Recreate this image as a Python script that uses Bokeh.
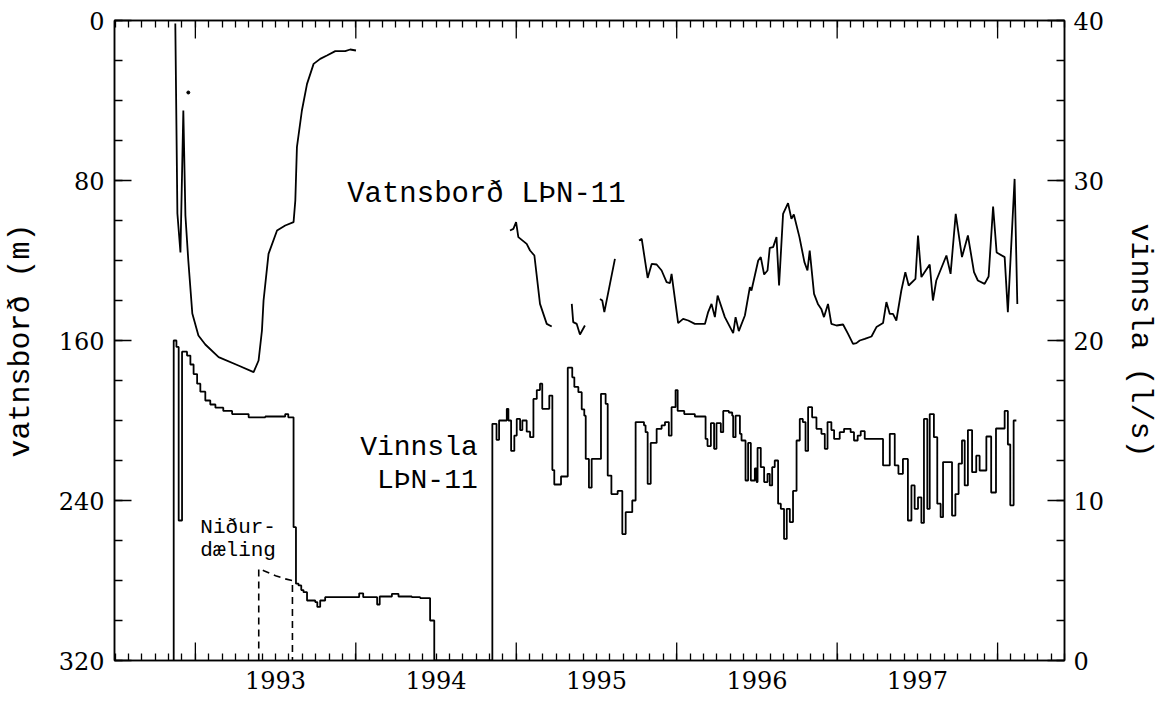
import numpy as np
from bokeh.plotting import figure
from bokeh.models import Range1d, LinearAxis, FixedTicker
from bokeh.core.properties import value
from bokeh.embed import file_html
from bokeh.resources import INLINE

# ---------------- data ----------------
years = [1993, 1994, 1995, 1996, 1997]
year_labels = ["1993", "1994", "1995", "1996", "1997"]
year_bounds = [1993, 1994, 1995, 1996, 1997, 1998]

# water level (m below surface), segments separated by NaN
lvl_t = [1992.875, 1992.888, 1992.907, 1992.925, 1992.938, 1992.956, 1992.981, 1993.019,
         1993.062, 1993.145, 1993.268, 1993.363, 1993.394, 1993.415, 1993.425, 1993.456,
         1993.509, 1993.560, 1993.612, 1993.623, 1993.633, 1993.664, 1993.696, 1993.737,
         1993.778, 1993.820, 1993.872, 1993.934, 1993.965, 1994.001,
         np.nan,
         1994.961, 1994.982, 1994.999, 1995.013, 1995.065, 1995.086, 1995.113, 1995.148,
         1995.190, 1995.221,
         np.nan,
         1995.346, 1995.355, 1995.377, 1995.397, 1995.428,
         np.nan,
         1995.522, 1995.536, 1995.549, 1995.584, 1995.615,
         np.nan,
         1995.765, 1995.782, 1995.819, 1995.844, 1995.875, 1995.906, 1995.937, 1995.958,
         1995.968, 1996.009, 1996.040, 1996.072, 1996.113, 1996.176, 1996.196, 1996.217,
         1996.238, 1996.255, 1996.300, 1996.352, 1996.367, 1996.387, 1996.425, 1996.456,
         1996.466, 1996.508, 1996.524, 1996.545, 1996.566, 1996.580, 1996.601, 1996.622,
         1996.638, 1996.663, 1996.694, 1996.715, 1996.730, 1996.765, 1996.796, 1996.815,
         1996.829, 1996.856, 1996.880, 1996.901, 1996.918, 1996.943, 1996.964, 1996.996,
         1997.037, 1997.068, 1997.099, 1997.120, 1997.141, 1997.172, 1997.214, 1997.245,
         1997.286, 1997.307, 1997.328, 1997.348, 1997.369, 1997.400, 1997.425, 1997.446,
         1997.488, 1997.504, 1997.525, 1997.577, 1997.597, 1997.618, 1997.681, 1997.707,
         1997.739, 1997.778, 1997.815, 1997.853, 1997.877, 1997.919, 1997.944, 1997.972,
         1997.994, 1998.044, 1998.064, 1998.106, 1998.123]
lvl_m = [1.5, 96.5, 116, 45, 97.5, 120, 146.5, 157.5,
         162, 168.3, 172.5, 175.8, 170, 155, 140, 116.7,
         105, 102.5, 100.8, 90, 63.3, 45, 31.7, 21.7,
         19.2, 17.5, 15.3, 15.3, 14.5, 15,
         np.nan,
         105, 104.2, 100.8, 108.3, 111.7, 115, 117.5, 141.7,
         151.7, 153,
         np.nan,
         141.7, 150.8, 151.7, 157, 152.5,
         np.nan,
         139.2, 140, 145.8, 131.7, 119.2,
         np.nan,
         110, 109.2, 128.7, 121.7, 122, 125, 130.8, 131.3,
         126.7, 151.3, 149.2, 150, 151.7, 151.7, 145.8, 141.7,
         148.3, 137.5, 148.3, 156.3, 148.3, 155.3, 147.5, 133.3,
         135, 120, 118.3, 127, 125, 113.7, 113.3, 108.3,
         132.5, 96.7, 91.3, 99.2, 97, 108.3, 120.8, 125,
         115, 136.7, 141.7, 144.2, 148.3, 141.7, 151.7, 152.5,
         152, 156.7, 161.7, 161.3, 160, 159.2, 158, 153.3,
         151.3, 140.8, 146.7, 146.7, 150, 135, 125.8, 132.5,
         129.2, 107.5, 128.3, 122, 140, 130, 117.5, 126.7,
         96.7, 118.3, 107.5, 125.8, 130, 131.7, 128, 93,
         116, 118.3, 145.8, 79.2, 141.7]

lvl_dot_t = [1992.956]
lvl_dot_m = [36]

# pumping (l/s), step values starting at each time
vin_t = [1992.865, 1992.865, 1992.882, 1992.896, 1992.917, 1992.948, 1992.969, 1992.989,
         1993.011, 1993.031, 1993.062, 1993.093, 1993.125, 1993.174, 1993.229, 1993.332,
         1993.436, 1993.560, 1993.579, 1993.612, 1993.627, 1993.643, 1993.660, 1993.674,
         1993.696, 1993.747, 1993.760, 1993.778, 1993.809, 1994.021, 1994.046, 1994.133,
         1994.149, 1994.225, 1994.266, 1994.349, 1994.401, 1994.463, 1994.489,
         1994.851, 1994.851, 1994.877, 1994.893, 1994.941, 1994.951, 1994.968, 1994.988,
         1995.003, 1995.024, 1995.038, 1995.065, 1995.086, 1995.107, 1995.128, 1995.148,
         1995.162, 1995.206, 1995.225, 1995.237, 1995.279, 1995.321, 1995.349, 1995.362,
         1995.387, 1995.408, 1995.424, 1995.433, 1995.453, 1995.470, 1995.528, 1995.557,
         1995.570, 1995.593, 1995.632, 1995.661, 1995.682, 1995.723, 1995.744, 1995.796,
         1995.806, 1995.819, 1995.838, 1995.875, 1995.906, 1995.927, 1995.951, 1995.968,
         1995.993, 1996.006, 1996.047, 1996.113, 1996.180, 1996.192, 1996.213, 1996.233,
         1996.248, 1996.275, 1996.290, 1996.325, 1996.346, 1996.352, 1996.367, 1996.394,
         1996.404, 1996.429, 1996.445, 1996.462, 1996.487, 1996.498, 1996.504, 1996.524,
         1996.545, 1996.566, 1996.580, 1996.595, 1996.611, 1996.632, 1996.649, 1996.669,
         1996.686, 1996.705, 1996.725, 1996.747, 1996.767, 1996.786, 1996.803, 1996.819,
         1996.844, 1996.871, 1996.902, 1996.923, 1996.940, 1996.964, 1996.981, 1997.016,
         1997.043, 1997.084, 1997.105, 1997.128, 1997.147, 1997.172, 1997.286, 1997.328,
         1997.359, 1997.382, 1997.410, 1997.441, 1997.463, 1997.483, 1997.504, 1997.525,
         1997.541, 1997.562, 1997.577, 1997.603, 1997.624, 1997.645, 1997.660, 1997.716,
         1997.737, 1997.757, 1997.778, 1997.795, 1997.815, 1997.841, 1997.867, 1997.888,
         1997.930, 1997.960, 1997.990, 1998.044, 1998.064, 1998.079, 1998.100, 1998.117]
vin_v = [0, 20.0, 19.6, 8.75, 19.3, 19.06, 18.5, 17.9,
         17.3, 16.8, 16.25, 16.0, 15.8, 15.6, 15.4, 15.2,
         15.25, 15.4, 15.2, 8.33, 4.8, 4.69, 4.4, 4.27,
         3.75, 3.65, 3.35, 3.75, 3.96, 4.2, 3.96, 3.5,
         4.0, 4.17, 4.0, 3.96, 3.9, 2.5, 0,
         0, 14.79, 13.79, 15.0, 15.73, 15.0, 13.1, 14.06,
         15.1, 14.4, 15.0, 14.3, 13.96, 16.35, 16.9, 17.3,
         15.73, 16.56, 11.9, 11.0, 11.5, 18.3, 17.7, 17.1,
         16.77, 15.7, 15.3, 12.6, 10.8, 12.6, 16.67, 16.04,
         11.56, 10.4, 10.6, 7.9, 9.27, 10.0, 14.9, 14.7,
         14.27, 11.04, 13.6, 14.48, 14.7, 14.9, 14.06, 15.83,
         16.9, 15.6, 15.4, 15.25, 13.85, 13.4, 14.83, 13.23,
         14.83, 14.27, 15.6, 15.5, 15.3, 13.96, 15.3, 14.17,
         13.75, 11.25, 13.6, 11.25, 12.0, 11.15, 13.29, 12.08,
         11.15, 11.67, 10.94, 12.08, 12.5, 9.8, 9.48, 7.6,
         9.48, 8.65, 10.6, 13.75, 15.1, 14.9, 13.1, 15.83,
         15.2, 14.48, 14.17, 13.23, 14.9, 14.4, 13.85, 14.27,
         14.48, 14.27, 13.75, 14.06, 14.33, 13.85, 12.19, 14.17,
         12.19, 11.67, 12.6, 8.75, 10.94, 9.48, 10.2, 8.6,
         15.1, 9.48, 15.4, 13.96, 9.8, 8.96, 12.4, 9.06,
         10.4, 12.3, 13.75, 10.94, 14.4, 11.77, 12.8, 11.875,
         14.0, 10.5, 14.5, 15.6, 13.5, 9.7, 15.0, 15.0]

# re-injection (l/s), dashed
inj_t = [1993.395, 1993.395, 1993.43, 1993.50, 1993.56, 1993.605, 1993.605]
inj_v = [0, 5.73, 5.6, 5.3, 5.1, 5.0, 0]

months = [1992.5 + i / 12 for i in range(0, 72)]

# ---------------- figure ----------------
SERIF = "DejaVu Serif"
MONO = "Liberation Mono"

p = figure(frame_width=950, frame_height=640, output_backend="svg", toolbar_location=None,
           x_range=Range1d(1992.496, 1998.417), y_range=Range1d(320, 0),
           min_border_left=110, min_border_right=90, min_border_top=20, min_border_bottom=40)
p.extra_y_ranges = {"vin": Range1d(0, 40)}
p.grid.visible = False
p.outline_line_color = "black"
p.outline_line_width = 1.5
p.background_fill_color = "white"
p.border_fill_color = "white"

def tick_style(ax):
    ax.axis_line_color = "black"
    ax.axis_line_width = 1.5
    ax.major_tick_line_color = "black"
    ax.minor_tick_line_color = "black"
    ax.major_tick_line_width = 1.3
    ax.minor_tick_line_width = 1.3
    ax.major_tick_in = 17
    ax.major_tick_out = 0
    ax.minor_tick_in = 8
    ax.minor_tick_out = 0
    ax.major_label_text_font = SERIF
    ax.major_label_text_font_size = "24px"
    ax.major_label_text_color = "black"
    ax.axis_label_text_font = MONO
    ax.axis_label_text_font_style = "normal"
    ax.axis_label_text_font_size = "30px"
    ax.axis_label_text_color = "black"

# bottom: labels centred in each year, monthly minor ticks
xb = p.xaxis[0]
xb.ticker = FixedTicker(ticks=[y + 0.5 for y in years], minor_ticks=months)
tick_style(xb)
xb.major_tick_in = 0
xb.major_tick_line_color = None
xb.minor_tick_in = 7
xb.major_label_standoff = 10
xb.major_label_overrides = {y + 0.5: s for y, s in zip(years, year_labels)}

# top: monthly ticks only
xt = LinearAxis(ticker=FixedTicker(ticks=[], minor_ticks=months))
tick_style(xt)
xt.minor_tick_in = 7
p.add_layout(xt, "above")

# long year-boundary ticks (top and bottom), 18 px = 9 m
p.segment(x0=year_bounds, x1=year_bounds, y0=[320] * 6, y1=[311] * 6,
          line_color="black", line_width=1.3)
p.segment(x0=year_bounds, x1=year_bounds, y0=[0] * 6, y1=[9] * 6,
          line_color="black", line_width=1.3)

# left axis
yl = p.yaxis[0]
yl.ticker = FixedTicker(ticks=[0, 80, 160, 240, 320], minor_ticks=list(range(0, 321, 20)))
tick_style(yl)
yl.major_label_standoff = 10
yl.axis_label = "vatnsborð (m)"
yl.axis_label_standoff = 18

# right axis
yr = LinearAxis(y_range_name="vin",
                ticker=FixedTicker(ticks=[0, 10, 20, 30, 40], minor_ticks=[i * 2.5 for i in range(17)]))
tick_style(yr)
yr.major_label_standoff = 9
yr.axis_label = "vinnsla (l/s)"
yr.axis_label_standoff = 16
p.add_layout(yr, "right")

# ---------------- data glyphs ----------------
p.line(lvl_t, lvl_m, line_color="black", line_width=1.8)
p.scatter(lvl_dot_t, lvl_dot_m, size=3, color="black")
p.step(vin_t, vin_v, mode="after", y_range_name="vin", line_color="black", line_width=1.8)
p.line(inj_t, inj_v, y_range_name="vin", line_color="black", line_width=1.6, line_dash="7 5")

# ---------------- annotations ----------------
p.text(x=[1993.946], y=[87], text=["Vatnsborð LÞN-11"], text_font=value(MONO),
       text_font_size="29px", text_align="left", text_baseline="middle", text_color="black")
p.text(x=[1994.76, 1994.76], y=[213.5, 230], text=["Vinnsla", "LÞN-11"], text_font=value(MONO),
       text_font_size="28px", text_align="right", text_baseline="middle", text_color="black")
p.text(x=[1993.031, 1993.031], y=[253.5, 265], text=["Niður-", "dæling"], text_font=value(MONO),
       text_font_size="21px", text_align="left", text_baseline="middle", text_color="black")

open("out.html", "w").write(file_html(p, INLINE))
